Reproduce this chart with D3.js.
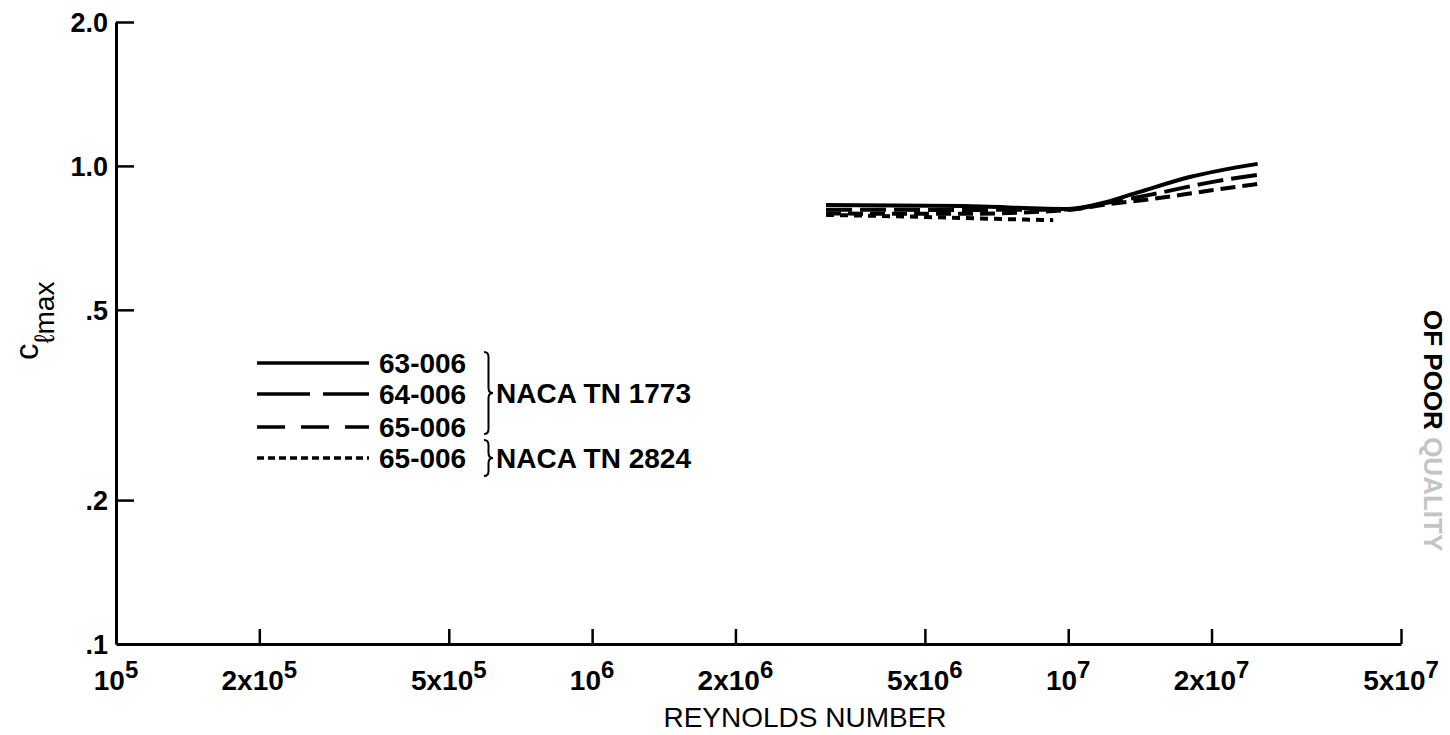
<!DOCTYPE html>
<html><head><meta charset="utf-8">
<script src="https://cdn.jsdelivr.net/npm/d3@7"></script>
<style>
body{margin:0;background:#fff}
svg{display:block}
text{font-family:"Liberation Sans",Arial,Helvetica,sans-serif;fill:#000}
</style>
</head><body><svg id="c" width="1450" height="735"></svg>
<script>
// ---- data ----
const xTickValues = [1e5, 2e5, 5e5, 1e6, 2e6, 5e6, 1e7, 2e7, 5e7];
const xTickMant   = ["", "2x", "5x", "", "2x", "5x", "", "2x", "5x"];
const xTickExp    = ["5", "5", "5", "6", "6", "6", "7", "7", "7"];
const yTickValues = [0.1, 0.2, 0.5, 1.0, 2.0];
const yTickLabels = [".1", ".2", ".5", "1.0", "2.0"];

const seriesNames   = ["63-006", "64-006", "65-006", "65-006"];
const sourceNames   = ["NACA TN 1773", "NACA TN 2824"];

const re63 = [3.1e6, 6e6, 1e7, 1.2e7, 1.4e7, 1.8e7, 2.5e7];
const cl63 = [0.828, 0.824, 0.813, 0.84, 0.88, 0.948, 1.01];
const re64 = [3.1e6, 6e6, 1e7, 1.2e7, 1.5e7, 2e7, 2.5e7];
const cl64 = [0.81, 0.809, 0.811, 0.836, 0.872, 0.925, 0.958];
const re65 = [3.1e6, 6e6, 1e7, 1.2e7, 1.5e7, 2e7, 2.5e7];
const cl65 = [0.795, 0.794, 0.809, 0.83, 0.853, 0.889, 0.917];
const re2824 = [3.1e6, 5e6, 7e6, 9.3e6];
const cl2824 = [0.79, 0.782, 0.775, 0.77];

// ---- layout ----
const svg = d3.select("#c");
const X0 = 116, X1 = 1401, Y0 = 644, Y1 = 22;
const x = d3.scaleLog().domain([1e5, 5e7]).range([X0, X1]);
const y = d3.scaleLog().domain([0.1, 2.0]).range([Y0, Y1]);

// axes
const gx = svg.append("g").attr("transform", `translate(0,${Y0})`)
  .call(d3.axisBottom(x).tickValues(xTickValues.slice(1)).tickSizeInner(-15).tickSizeOuter(0).tickFormat(""));
gx.select(".domain").attr("stroke", "#000").attr("stroke-width", 3);
gx.selectAll(".tick line").attr("stroke", "#000").attr("stroke-width", 2.5);

const gy = svg.append("g").attr("transform", `translate(${X0},0)`)
  .call(d3.axisLeft(y).tickValues(yTickValues.slice(1)).tickSizeInner(-18).tickSizeOuter(0).tickFormat(""));
gy.select(".domain").attr("stroke", "#000").attr("stroke-width", 3);
gy.selectAll(".tick line").attr("stroke", "#000").attr("stroke-width", 2.5);

// x tick labels
xTickValues.forEach((v, i) => {
  const t = svg.append("text").attr("x", x(v)).attr("y", 690)
    .attr("text-anchor", "middle").attr("font-size", 28).attr("font-weight", "bold");
  t.append("tspan").text(xTickMant[i] + "10");
  t.append("tspan").attr("dy", -12).attr("font-size", 24).text(xTickExp[i]);
});
// y tick labels
yTickValues.forEach((v, i) => {
  svg.append("text").attr("x", 108).attr("y", y(v) + 10)
    .attr("text-anchor", "end").attr("font-size", 27).attr("font-weight", "bold")
    .text(yTickLabels[i]);
});

// axis titles
svg.append("text").attr("x", 805).attr("y", 727).attr("text-anchor", "middle")
  .attr("font-size", 28).text("REYNOLDS NUMBER");
const yl = svg.append("text").attr("transform", "translate(38,360) rotate(-90)")
  .attr("font-size", 33);
yl.append("tspan").text("c");
yl.append("tspan").attr("dy", 16).attr("font-size", 28).text("ℓmax");

// side text
const st = svg.append("text").attr("transform", "translate(1424,310) rotate(90)")
  .attr("font-size", 26).attr("font-weight", "bold");
st.append("tspan").text("OF POOR ");
st.append("tspan").style("fill", "#c4c4c4").text("QUALITY");

// ---- data lines ----
const series = [
  {re: re63, cl: cl63, dash: null},
  {re: re64, cl: cl64, dash: "26,8"},
  {re: re65, cl: cl65, dash: "15,7"},
  {re: re2824, cl: cl2824, dash: "8,6"}
];
const line = d3.line().x(d => x(d[0])).y(d => y(d[1])).curve(d3.curveMonotoneX);
series.forEach(s => {
  svg.append("path").datum(s.re.map((r, i) => [r, s.cl[i]]))
    .attr("d", line).attr("fill", "none").attr("stroke", "#000")
    .attr("stroke-width", 4).attr("stroke-dasharray", s.dash);
});

// ---- legend ----
const legendDash = [null, "53,13", "28,16", "7,4"];
const legY = [363, 394, 427, 458];
seriesNames.forEach((n, i) => {
  svg.append("line").attr("x1", 257).attr("x2", 369).attr("y1", legY[i]).attr("y2", legY[i])
    .attr("stroke", "#000").attr("stroke-width", 3.5).attr("stroke-dasharray", legendDash[i]);
  svg.append("text").attr("x", 379).attr("y", legY[i] + 10)
    .attr("font-size", 28).attr("font-weight", "bold").text(n);
});
function brace(xb, ya, yb, w) {
  const ym = (ya + yb) / 2, r = 5;
  return `M${xb},${ya} Q${xb + w / 2},${ya} ${xb + w / 2},${ya + r} L${xb + w / 2},${ym - r} Q${xb + w / 2},${ym} ${xb + w},${ym} Q${xb + w / 2},${ym} ${xb + w / 2},${ym + r} L${xb + w / 2},${yb - r} Q${xb + w / 2},${yb} ${xb},${yb}`;
}
svg.append("path").attr("d", brace(484, 352, 434, 9)).attr("fill", "none").attr("stroke", "#000").attr("stroke-width", 2);
svg.append("path").attr("d", brace(484, 440, 476, 9)).attr("fill", "none").attr("stroke", "#000").attr("stroke-width", 2);
svg.append("text").attr("x", 496).attr("y", 403).attr("font-size", 28).attr("font-weight", "bold").text(sourceNames[0]);
svg.append("text").attr("x", 496).attr("y", 468).attr("font-size", 28).attr("font-weight", "bold").text(sourceNames[1]);
</script>
</body></html>
